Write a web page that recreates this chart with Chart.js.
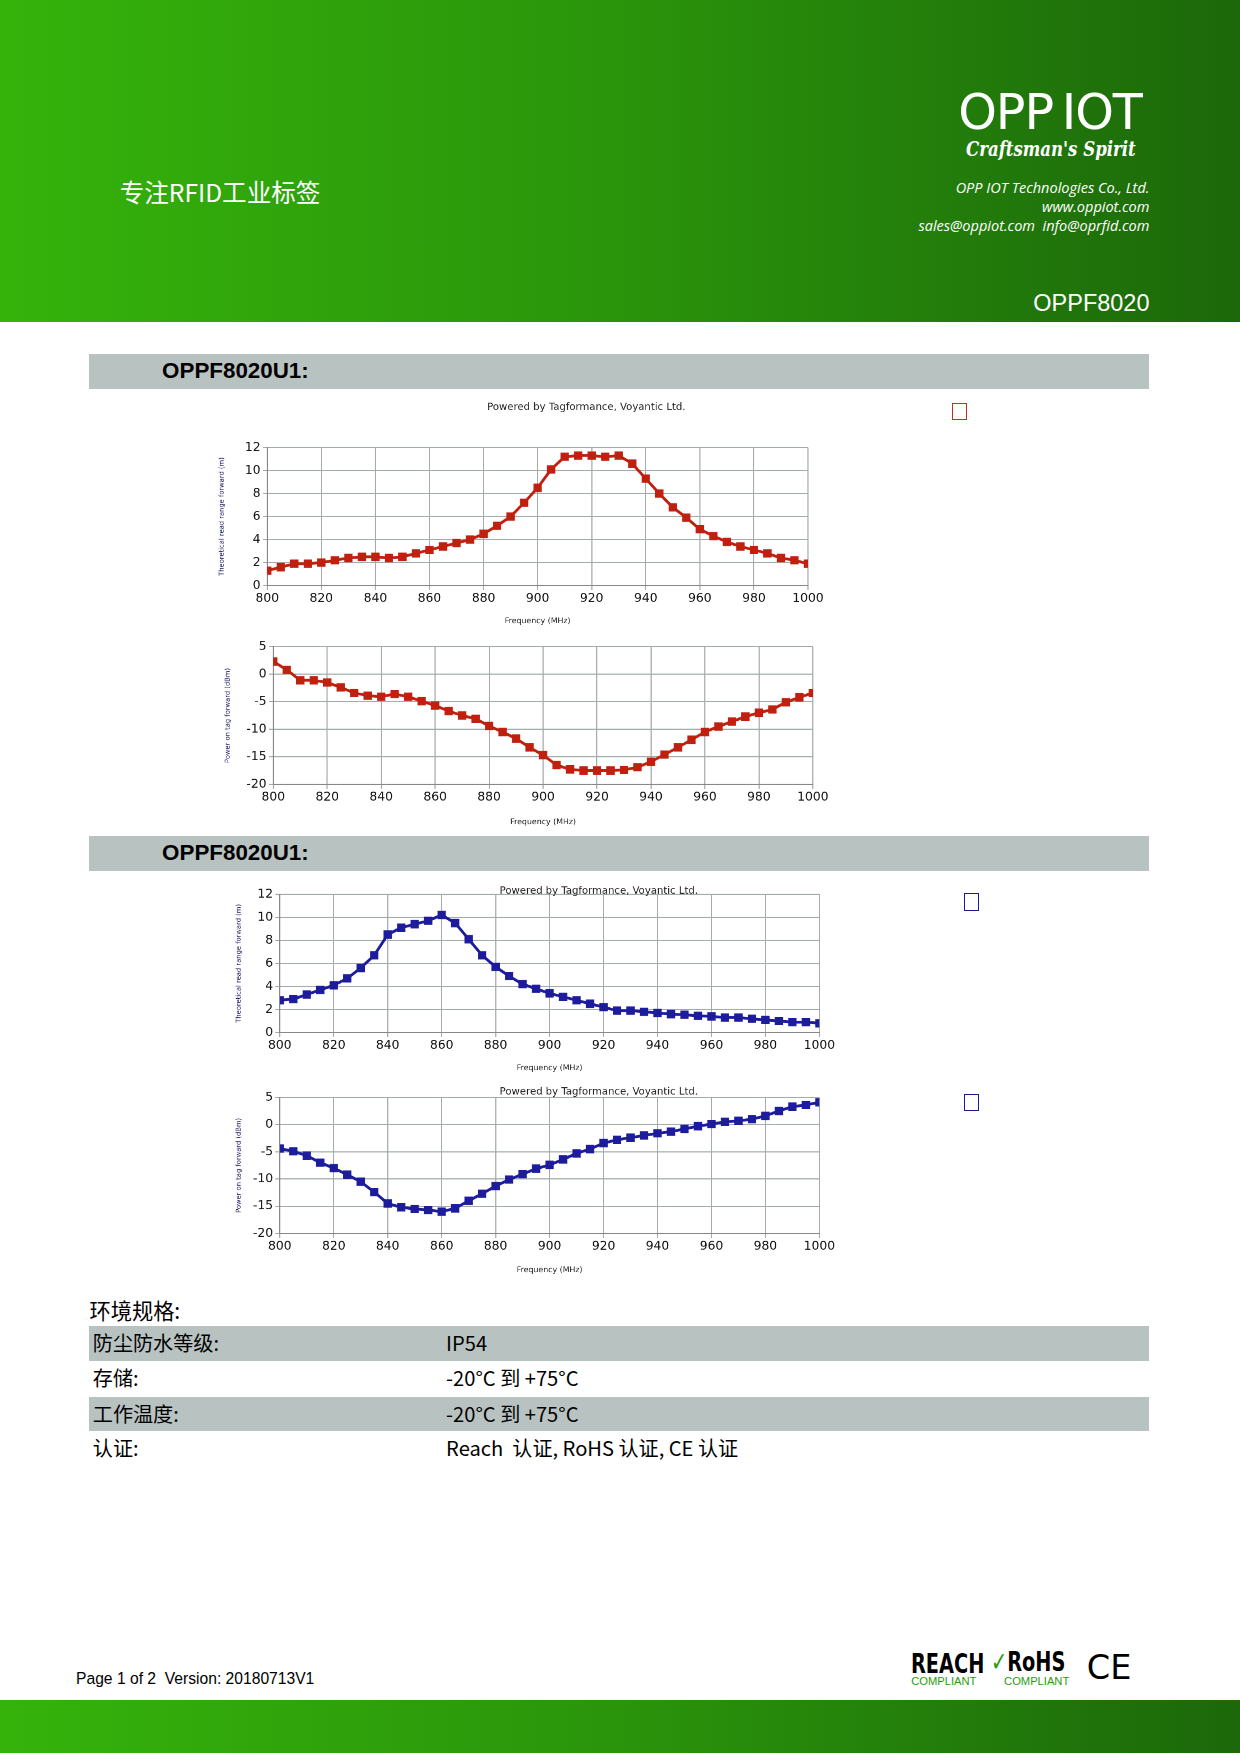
<!DOCTYPE html>
<html>
<head>
<meta charset="utf-8">
<script src="https://cdn.jsdelivr.net/npm/chart.js@4.4.0/dist/chart.umd.min.js"></script>
<style>
  body { margin: 0; background: #fff; font-family: "Liberation Sans", Arial, sans-serif; }
  #page { position: relative; width: 1109px; height: 1568px; zoom: 1.11813; overflow: hidden; }
  .abs { position: absolute; }
  #head { left: 0; top: 0; width: 1109px; height: 288px; background: linear-gradient(90deg, #35b30b 0%, #2a940b 50%, #1c680a 100%); }
  #foot { left: 0; top: 1520px; width: 1109px; height: 48px; background: linear-gradient(90deg, #35b30b 0%, #2a940b 50%, #1c680a 100%); }
  .bar { left: 80px; width: 948px; height: 31px; background: #b8c2c1; font-weight: bold; font-size: 20px; line-height: 31px; }
  .bar span { margin-left: 65px; }
  .row { left: 80px; width: 948px; height: 31px; font-family: "Noto Sans CJK SC", sans-serif; font-size: 18px; line-height: 31px; }
  .row .k { position: absolute; left: 3px; }
  .row .v { position: absolute; left: 319px; }
  .gray { background: #b8c2c1; }
  canvas { position: absolute; }
  .icon { width: 12px; height: 14px; border: 1px solid #555; background: #fff; }
</style>
</head>
<body>
<div id="page">
  <div id="head" class="abs"></div>
  <div class="abs" style="left:107px;top:155px;color:#fff;font-size:22px;font-family:'Noto Sans CJK SC',sans-serif;">专注RFID工业标签</div>
  <div class="abs" style="left:857px;top:74px;color:#fff;font-size:44px;font-family:'DejaVu Sans';letter-spacing:-1px;">OPP<span style="margin-left:8px">IOT</span></div>
  <div class="abs" style="left:864px;top:122px;color:#fff;font-size:19px;font-style:italic;font-weight:bold;font-family:'DejaVu Serif';transform:scaleX(0.78);transform-origin:left;">Craftsman's Spirit</div>
  <div class="abs" style="right:81px;top:159px;color:#fff;font-size:13px;text-align:right;line-height:17px;font-style:italic;font-family:'Open Sans';">OPP IOT Technologies Co., Ltd.<br>www.oppiot.com<br>sales@oppiot.com&nbsp; info@oprfid.com</div>
  <div class="abs" style="right:81px;top:259px;color:#fff;font-size:21px;">OPPF8020</div>

  <div class="abs bar" style="top:317px;"><span>OPPF8020U1:</span></div>
  <div class="abs bar" style="top:748px;"><span>OPPF8020U1:</span></div>

  <canvas id="c1"></canvas>
  <canvas id="c2"></canvas>
  <canvas id="c3"></canvas>
  <canvas id="c4"></canvas>
  <div class="abs icon" style="left:851px;top:360px;border-color:#c03020;"></div>
  <div class="abs icon" style="left:862px;top:799px;border-color:#1a1a9a;"></div>
  <div class="abs icon" style="left:862px;top:978px;border-color:#1a1a9a;"></div>

  <div class="abs" style="left:80px;top:1157px;font-size:19px;font-family:'Noto Sans CJK SC',sans-serif;">环境规格:</div>
  <div class="abs row gray" style="top:1186px;"><span class="k">防尘防水等级:</span><span class="v">IP54</span></div>
  <div class="abs row" style="top:1217px;"><span class="k">存储:</span><span class="v">-20°C 到 +75°C</span></div>
  <div class="abs row gray" style="top:1249px;"><span class="k">工作温度:</span><span class="v">-20°C 到 +75°C</span></div>
  <div class="abs row" style="top:1280px;"><span class="k">认证:</span><span class="v">Reach&nbsp; 认证, RoHS 认证, CE 认证</span></div>

  <div class="abs" style="left:68px;top:1494px;font-size:14px;">Page 1 of 2&nbsp; Version: 20180713V1</div>
  <div class="abs" style="left:815px;top:1474px;font-size:24px;font-weight:bold;font-family:'DejaVu Sans Condensed';transform:scaleX(0.8);transform-origin:left;">REACH</div>
  <div class="abs" style="left:815px;top:1498px;font-size:10px;color:#2a9a10;">COMPLIANT</div>
  <div class="abs" style="left:886px;top:1472px;font-size:24px;font-weight:bold;font-family:'DejaVu Sans Condensed';transform:scaleX(0.8);transform-origin:left;"><span style="color:#2a9a10">✓</span>RoHS</div>
  <div class="abs" style="left:898px;top:1498px;font-size:10px;color:#2a9a10;">COMPLIANT</div>
  <div class="abs" style="left:972px;top:1474px;font-size:30px;font-family:'DejaVu Sans';">CE</div>
  <div id="foot" class="abs"></div>
</div>
<script>
var freqs = [800,805,810,815,820,825,830,835,840,845,850,855,860,865,870,875,880,885,890,895,900,905,910,915,920,925,930,935,940,945,950,955,960,965,970,975,980,985,990,995,1000];
var redRange = [1.3,1.6,1.9,1.9,2.0,2.2,2.4,2.5,2.5,2.4,2.5,2.8,3.1,3.4,3.7,4.0,4.5,5.2,6.0,7.2,8.5,10.1,11.2,11.3,11.3,11.2,11.3,10.6,9.3,8.0,6.8,5.9,4.9,4.3,3.8,3.4,3.1,2.8,2.4,2.2,1.9];
var redPower = [2.3,0.8,-1.1,-1.1,-1.5,-2.4,-3.4,-3.9,-4.1,-3.6,-4.1,-4.9,-5.7,-6.7,-7.5,-8.1,-9.4,-10.5,-11.7,-13.3,-14.7,-16.5,-17.3,-17.5,-17.5,-17.5,-17.4,-16.9,-15.9,-14.6,-13.3,-11.9,-10.5,-9.5,-8.6,-7.7,-7.0,-6.4,-5.1,-4.2,-3.4];
var blueRange = [2.8,2.9,3.3,3.7,4.1,4.7,5.6,6.7,8.5,9.1,9.4,9.7,10.2,9.5,8.1,6.7,5.7,4.9,4.2,3.8,3.4,3.1,2.8,2.5,2.2,1.9,1.9,1.8,1.7,1.6,1.55,1.45,1.4,1.3,1.3,1.2,1.1,1.0,0.9,0.9,0.8];
var bluePower = [-4.4,-4.9,-5.7,-7.0,-8.0,-9.2,-10.5,-12.4,-14.5,-15.2,-15.5,-15.7,-16.0,-15.4,-14.0,-12.7,-11.3,-10.1,-9.1,-8.1,-7.4,-6.4,-5.3,-4.5,-3.4,-2.8,-2.4,-2.0,-1.6,-1.3,-0.8,-0.3,0.1,0.5,0.7,1.0,1.6,2.5,3.3,3.6,4.1];
var xTicks = [800,820,840,860,880,900,920,940,960,980,1000];
var RED = "#c0200f", BLUE = "#1c1c9c";

function makeChart(id, box, plot, values, color, yMin, yMax, yStep, yTitle, note) {
  var cv = document.getElementById(id);
  cv.style.left = box.x + "px"; cv.style.top = box.y + "px";
  cv.style.width = box.w + "px"; cv.style.height = box.h + "px";
  var noteText = {
    id: "note",
    afterDraw: function (chart) {
      if (!note) return;
      var ctx = chart.ctx;
      ctx.save();
      ctx.font = "9px 'DejaVu Sans'";
      ctx.fillStyle = "#222";
      ctx.textAlign = "center";
      ctx.textBaseline = "middle";
      ctx.fillText("Powered by Tagformance, Voyantic Ltd.", note.x - box.x, note.y - box.y);
      ctx.restore();
    }
  };
  new Chart(cv, {
    type: "line",
    data: {
      labels: freqs,
      datasets: [{
        data: freqs.map(function (f, i) { return { x: f, y: values[i] }; }),
        borderColor: color, backgroundColor: color, borderWidth: 2.5,
        pointStyle: "rect", pointRadius: 3.5, tension: 0
      }]
    },
    options: {
      responsive: false, animation: false, devicePixelRatio: 2,
      layout: { padding: { top: plot.y - box.y, right: box.x + box.w - plot.x - plot.w, left: 0, bottom: 0 } },
      plugins: { legend: { display: false }, tooltip: { enabled: false } },
      scales: {
        x: {
          type: "linear", min: 800, max: 1000,
          afterBuildTicks: function (s) { s.ticks = xTicks.map(function (v) { return { value: v }; }); },
          afterFit: function (s) { s.height = box.y + box.h - plot.y - plot.h; },
          grid: { color: "#a3abab", lineWidth: 1, tickLength: 4 },
          border: { color: "#888" },
          ticks: { color: "#111", font: { size: 11, family: "DejaVu Sans" }, padding: 1, maxRotation: 0,
                   callback: function (v) { return String(v); } },
          title: { display: true, text: "Frequency (MHz)", color: "#222", font: { size: 7, family: "DejaVu Sans" }, padding: 0 }
        },
        y: {
          min: yMin, max: yMax,
          afterBuildTicks: function (s) { var t = []; for (var v = yMin; v <= yMax; v += yStep) t.push({ value: v }); s.ticks = t; },
          afterFit: function (s) { s.width = plot.x - box.x; },
          grid: { color: "#a3abab", lineWidth: 1, tickLength: 4 },
          border: { color: "#888" },
          ticks: { color: "#111", font: { size: 11, family: "DejaVu Sans" }, padding: 2 },
          title: { display: true, text: yTitle, color: "#1a1a60", font: { size: 6, family: "DejaVu Sans" }, padding: 0 }
        }
      }
    },
    plugins: [noteText]
  });
}

makeChart("c1", { x: 195, y: 355, w: 545, h: 205 }, { x: 239, y: 400, w: 484, h: 124 }, redRange, RED, 0, 12, 2, "Theoretical read range forward (m)", { x: 524, y: 364 });
makeChart("c2", { x: 200, y: 570, w: 545, h: 170 }, { x: 244, y: 578, w: 483, h: 124 }, redPower, RED, -20, 5, 5, "Power on tag forward (dBm)", null);
makeChart("c3", { x: 210, y: 790, w: 545, h: 170 }, { x: 250, y: 800, w: 483, h: 124 }, blueRange, BLUE, 0, 12, 2, "Theoretical read range forward (m)", { x: 535, y: 797 });
makeChart("c4", { x: 210, y: 970, w: 545, h: 170 }, { x: 250, y: 981, w: 483, h: 122 }, bluePower, BLUE, -20, 5, 5, "Power on tag forward (dBm)", { x: 535, y: 976 });
</script>
</body>
</html>
